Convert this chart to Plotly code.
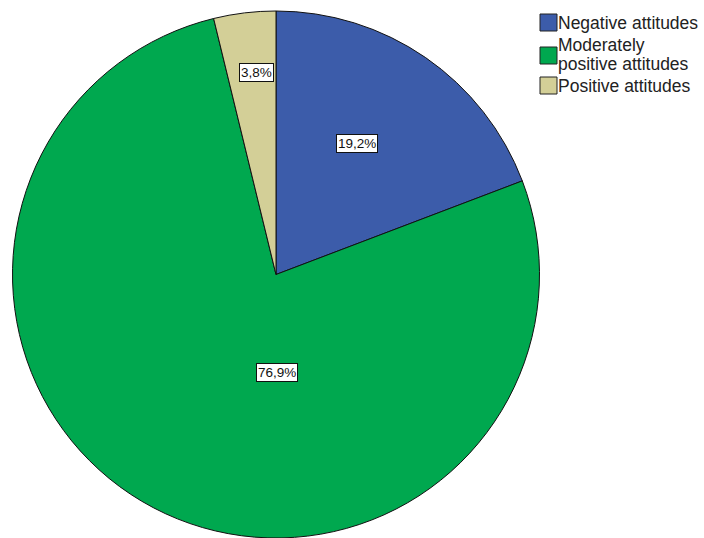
import plotly.graph_objects as go

# Attitude categories and their shares (%)
categories = ["Negative attitudes", "Moderately positive attitudes", "Positive attitudes"]
legend_lines = [["Negative attitudes"], ["Moderately", "positive attitudes"], ["Positive attitudes"]]
shares = [19.2, 76.9, 3.8]
colors = ["#3C5CAA", "#00A84F", "#D3CF97"]

W, H = 704, 538

def px_x(x):
    return x / W

def px_y(y):
    return 1 - y / H

fig = go.Figure(
    go.Pie(
        labels=categories,
        values=shares,
        sort=False,
        direction="clockwise",
        rotation=0,
        marker=dict(colors=colors, line=dict(color="#111111", width=1)),
        textinfo="none",
        hoverinfo="label+percent",
        showlegend=False,
        domain=dict(x=[px_x(11), px_x(541)], y=[0, px_y(11)]),
    )
)

# Value labels in boxed callouts inside each slice
label_pos = [(357, 143), (277, 372), (256, 73)]
annotations = []
for v, (lx, ly) in zip(shares, label_pos):
    annotations.append(dict(
        x=px_x(lx), y=px_y(ly), xref="paper", yref="paper",
        text=f"{v:.1f}%".replace(".", ","),
        showarrow=False, xanchor="center", yanchor="middle",
        font=dict(family="Liberation Sans, Arial, sans-serif", size=13.5, color="#111111"),
        bgcolor="white", bordercolor="#111111", borderwidth=1, borderpad=1,
    ))

# Legend drawn as colored squares with text beside them
shapes = []
legend_rows = [(14, [23]), (47, [45, 64]), (77, [86])]
for col, lines, (sq_top, text_ys) in zip(colors, legend_lines, legend_rows):
    shapes.append(dict(
        type="rect", xref="paper", yref="paper",
        x0=px_x(540), x1=px_x(557), y0=px_y(sq_top + 17), y1=px_y(sq_top),
        fillcolor=col, line=dict(color="#222222", width=1),
    ))
    for line, ty in zip(lines, text_ys):
        annotations.append(dict(
            x=px_x(556), y=px_y(ty), xref="paper", yref="paper",
            text=line, showarrow=False, xanchor="left", yanchor="middle",
            font=dict(family="Liberation Sans, Arial, sans-serif", size=17.5, color="#222222"),
        ))

fig.update_layout(
    width=W, height=H,
    margin=dict(l=0, r=0, t=0, b=0),
    paper_bgcolor="white", plot_bgcolor="white",
    annotations=annotations, shapes=shapes,
)

fig.write_html("out.html")
